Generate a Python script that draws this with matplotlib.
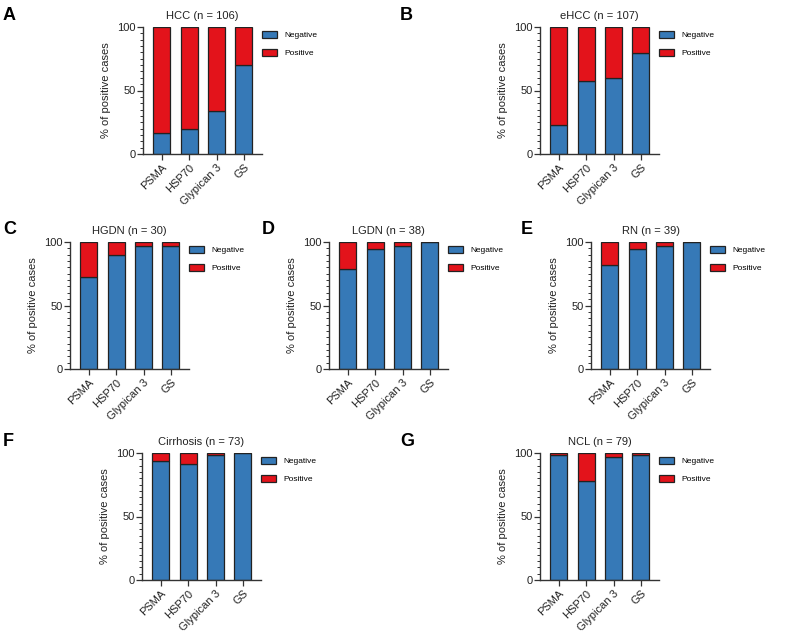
import numpy as np
import matplotlib.pyplot as plt
from matplotlib.ticker import MultipleLocator

plt.rcParams['font.family'] = ['Liberation Sans', 'DejaVu Sans']

markers = ['PSMA', 'HSP70', 'Glypican 3', 'GS']

# % negative cases per marker (positive = 100 - negative)
hcc_neg = [16.5, 20.0, 34.0, 70.0]
ehcc_neg = [22.8, 57.5, 59.5, 79.5]
hgdn_neg = [72.5, 89.5, 96.5, 96.5]
lgdn_neg = [78.9, 94.5, 97.2, 100.0]
rn_neg = [81.5, 94.5, 97.2, 100.0]
cirrhosis_neg = [94.0, 91.5, 98.5, 100.0]
ncl_neg = [98.5, 78.0, 97.0, 98.7]

panels = [
    ('A', 'HCC (n = 106)', hcc_neg),
    ('B', 'eHCC (n = 107)', ehcc_neg),
    ('C', 'HGDN (n = 30)', hgdn_neg),
    ('D', 'LGDN (n = 38)', lgdn_neg),
    ('E', 'RN (n = 39)', rn_neg),
    ('F', 'Cirrhosis (n = 73)', cirrhosis_neg),
    ('G', 'NCL (n = 79)', ncl_neg),
]

# axes placement in pixels: (axes left, axes top, letter x)
layout = [
    (143, 27, 3),
    (540, 27, 400),
    (70, 242, 3),
    (329, 242, 262),
    (591, 242, 521),
    (142, 453, 3),
    (540, 453, 400),
]

W, H = 787, 637
AX_W, AX_H = 119, 127
blue = '#3679b7'
red = '#e3131b'
edge = '#222222'

fig = plt.figure(figsize=(W / 100, H / 100), dpi=100)

for (letter, title, neg), (lx, ty, letx) in zip(panels, layout):
    ax = fig.add_axes([lx / W, 1 - (ty + AX_H) / H, AX_W / W, AX_H / H])
    x = np.arange(len(markers))
    neg = np.array(neg)
    pos = 100 - neg
    ax.bar(x, neg, width=0.62, color=blue, edgecolor=edge, linewidth=0.9, label='Negative')
    ax.bar(x, pos, bottom=neg, width=0.62, color=red, edgecolor=edge, linewidth=0.9, label='Positive')
    ax.set_xlim(-0.69, 3.66)
    ax.set_ylim(0, 100)
    ax.set_yticks([0, 50, 100])
    ax.yaxis.set_minor_locator(MultipleLocator(5))
    ax.set_xticks(x)
    ax.set_xticklabels(markers, rotation=45, ha='right', rotation_mode='anchor', fontsize=8)
    ax.tick_params(axis='y', labelsize=8, length=4, width=0.9, pad=1.5, colors='#333333', labelcolor='#222222')
    ax.tick_params(axis='y', which='minor', length=2, width=0.7, colors='#333333')
    ax.tick_params(axis='x', length=4, width=0.9, pad=2, colors='#333333', labelcolor='#222222')
    for s in ['top', 'right']:
        ax.spines[s].set_visible(False)
    for s in ['left', 'bottom']:
        ax.spines[s].set_linewidth(1.0)
        ax.spines[s].set_color('#333333')
    ax.set_ylabel('% of positive cases', fontsize=8, color='#222222', labelpad=4)
    ax.set_title(title, fontsize=8, pad=6, color='#222222')
    ax.legend(loc='upper left', bbox_to_anchor=(1.0, 0.97), frameon=False, fontsize=6,
              handlelength=1.8, handleheight=0.9, labelspacing=1.15, handletextpad=0.9,
              borderaxespad=0, borderpad=0)
    fig.text(letx / W, 1 - (ty - 12) / H, letter, fontsize=13, fontweight='bold', va='center', ha='left')

fig.savefig('out.png', dpi=100)
